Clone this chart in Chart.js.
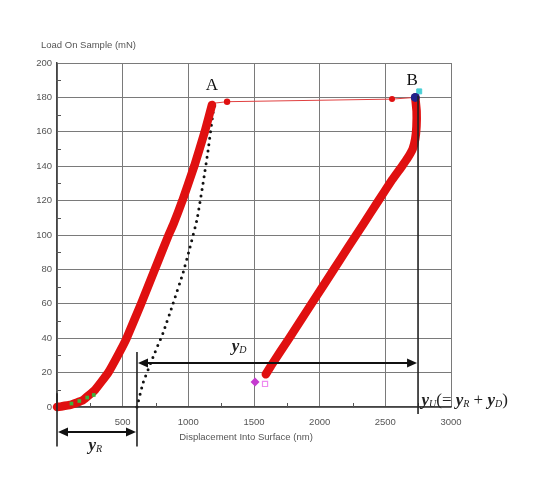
<!DOCTYPE html>
<html>
<head>
<meta charset="utf-8">
<script src="https://cdn.jsdelivr.net/npm/chart.js@4/dist/chart.umd.min.js"></script>
<style>
html,body{margin:0;padding:0;background:#fff;}
#wrap{width:541px;height:483px;}
</style>
</head>
<body>
<div id="wrap"><canvas id="c" width="541" height="483"></canvas></div>
<script>
// ---- axis ticks ----
const xTickValues = [0, 500, 1000, 1500, 2000, 2500, 3000];
const yTickValues = [0, 20, 40, 60, 80, 100, 120, 140, 160, 180, 200];
const xMinorTicks = [250, 750, 1250, 1750, 2250, 2750];
const yMinorTicks = [10, 30, 50, 70, 90, 110, 130, 150, 170, 190];

// ---- loading curve (nm, mN) ----
const loadDisp = [0, 30, 100, 198, 290, 390, 470, 530, 640, 745, 850, 885, 955, 1045, 1125, 1180];
const loadLoad = [0, 0.3, 1.2, 4, 10, 20, 31, 40, 60, 80, 100, 106, 120, 140, 160, 175.6];

// ---- hold segment A -> B ----
const holdDisp = [1180, 1295, 2551, 2728];
const holdLoad = [176.5, 177.5, 179, 180];

// ---- unloading curve ----
const unloadDisp = [2728, 2738, 2737, 2728, 2708, 2672, 2627, 2551, 2448, 2338, 2218, 2108, 1938, 1768, 1630, 1590];
const unloadLoad = [180, 172, 163, 156, 150, 145, 140, 132, 120, 107, 93, 80, 60, 40, 24, 19];

// ---- dotted fit line ----
const fitDisp = [609, 655, 731, 807, 883, 960, 1013, 1066, 1112, 1150, 1188, 1203];
const fitLoad = [0, 14, 29, 43, 60, 78, 93, 109, 130, 149, 171, 175.6];

// ---- special markers ----
const greenDisp = [110, 170, 230, 280];
const greenLoad = [2, 3.5, 5.5, 7];
const peakDisp = [2728];
const peakLoad = [180];
const cyanDisp = [2758];
const cyanLoad = [183.5];
const diamondDisp = [1508];
const diamondLoad = [14.5];
const squareDisp = [1584];
const squareLoad = [13.4];

// ---- annotation geometry (data units) ----
const guideX = [0, 609, 2749];
const guideTop = [8, 32, 181];
const guideBottom = [-23, -23, -4];
const arrowFrom = [609, 0];
const arrowTo = [2749, 609];
const arrowLoad = [25.6, -14.5];

function pts(xs, ys) { return xs.map((x, i) => ({x: x, y: ys[i]})); }

const annot = {
  id: 'annot',
  afterDatasetsDraw(chart) {
    const ctx = chart.ctx;
    const xs = chart.scales.x, ys = chart.scales.y;
    const ca = chart.chartArea;
    ctx.save();
    // minor ticks
    ctx.strokeStyle = '#555';
    ctx.lineWidth = 1;
    yMinorTicks.forEach(v => {
      const py = Math.round(ys.getPixelForValue(v)) + 0.5;
      ctx.beginPath(); ctx.moveTo(ca.left - 1, py); ctx.lineTo(ca.left + 4, py); ctx.stroke();
    });
    xMinorTicks.forEach(v => {
      const px = Math.round(xs.getPixelForValue(v)) + 0.5;
      ctx.beginPath(); ctx.moveTo(px, ca.bottom + 1); ctx.lineTo(px, ca.bottom - 4); ctx.stroke();
    });
    // guide vertical lines
    ctx.strokeStyle = '#222';
    ctx.lineWidth = 1.6;
    guideX.forEach((gx, i) => {
      const px = xs.getPixelForValue(gx);
      ctx.beginPath();
      ctx.moveTo(px, ys.getPixelForValue(guideTop[i]));
      ctx.lineTo(px, ys.getPixelForValue(guideBottom[i]));
      ctx.stroke();
    });
    // double arrows
    ctx.fillStyle = '#111';
    ctx.strokeStyle = '#111';
    ctx.lineWidth = 2;
    arrowFrom.forEach((a, i) => {
      const x1 = xs.getPixelForValue(a), x2 = xs.getPixelForValue(arrowTo[i]);
      const py = ys.getPixelForValue(arrowLoad[i]);
      const h = 10, w = 4.5;
      ctx.beginPath(); ctx.moveTo(x1 + h - 2, py); ctx.lineTo(x2 - h + 2, py); ctx.stroke();
      ctx.beginPath(); ctx.moveTo(x1 + 1, py); ctx.lineTo(x1 + h + 1, py - w); ctx.lineTo(x1 + h + 1, py + w); ctx.closePath(); ctx.fill();
      ctx.beginPath(); ctx.moveTo(x2 - 1, py); ctx.lineTo(x2 - h - 1, py - w); ctx.lineTo(x2 - h - 1, py + w); ctx.closePath(); ctx.fill();
    });
    // point labels
    ctx.fillStyle = '#111';
    ctx.textBaseline = 'middle';
    ctx.textAlign = 'center';
    ctx.font = '17px "Liberation Serif", "DejaVu Serif", serif';
    ctx.fillText('A', xs.getPixelForValue(1180), ys.getPixelForValue(187));
    ctx.fillText('B', xs.getPixelForValue(2704), ys.getPixelForValue(190));

    function rich(parts, x, y) {
      ctx.textAlign = 'left';
      let cx = x;
      parts.forEach(p => {
        const size = p.sub ? 10 : 17;
        ctx.font = (p.it ? 'italic ' : '') + (p.b ? 'bold ' : '') + size + 'px "Liberation Serif", "DejaVu Serif", serif';
        ctx.fillText(p.t, cx, y + (p.sub ? 4 : 0));
        cx += ctx.measureText(p.t).width;
      });
      return cx - x;
    }
    ctx.fillStyle = '#222';
    rich([{t: 'y', it: true, b: true}, {t: 'D', it: true, sub: true}], xs.getPixelForValue(1330), ys.getPixelForValue(35));
    rich([{t: 'y', it: true, b: true}, {t: 'R', it: true, sub: true}], xs.getPixelForValue(240), ys.getPixelForValue(-22.5));
    rich([{t: 'y', it: true, b: true}, {t: 'U', it: true, sub: true}, {t: '(= ', it: false},
          {t: 'y', it: true, b: true}, {t: 'R', it: true, sub: true}, {t: ' + ', it: false},
          {t: 'y', it: true, b: true}, {t: 'D', it: true, sub: true}, {t: ')', it: false}],
         xs.getPixelForValue(2775), ys.getPixelForValue(4));

    // axis titles
    ctx.fillStyle = '#555';
    ctx.font = '9.5px "Liberation Sans", Arial, sans-serif';
    ctx.textAlign = 'left';
    ctx.fillText('Load On Sample (mN)', 41, 45);
    ctx.textAlign = 'center';
    ctx.fillText('Displacement Into Surface (nm)', 246, 437);
    ctx.restore();
  }
};

const red = '#e01010';
new Chart(document.getElementById('c'), {
  type: 'scatter',
  data: {
    datasets: [
      {data: pts(fitDisp, fitLoad), showLine: true, borderColor: '#111', borderWidth: 3,
       borderDash: [0, 6.5], borderCapStyle: 'round', pointRadius: 0, tension: 0.1, clip: false, order: 5},
      {data: pts(holdDisp, holdLoad), showLine: true, borderColor: '#e04040', borderWidth: 1,
       pointRadius: [0, 3.2, 3, 0], pointBackgroundColor: red, pointBorderWidth: 0, order: 4},
      {data: pts(loadDisp, loadLoad), showLine: true, borderColor: red, borderWidth: 8.5,
       borderCapStyle: 'round', borderJoinStyle: 'round', pointRadius: 0, tension: 0.1, clip: false, order: 3},
      {data: pts(unloadDisp, unloadLoad), showLine: true, borderColor: red, borderWidth: 8.5,
       borderCapStyle: 'round', borderJoinStyle: 'round', pointRadius: 0, tension: 0.1, clip: false, order: 3},
      {data: pts(greenDisp, greenLoad), showLine: false, pointStyle: 'rect', pointRadius: 2.6,
       pointBackgroundColor: '#3cb33c', pointBorderWidth: 0, order: 1},
      {data: pts(cyanDisp, cyanLoad), showLine: false, pointStyle: 'rect', pointRadius: 3.5,
       pointBackgroundColor: '#49cfd6', pointBorderColor: '#49cfd6', pointBorderWidth: 1, clip: false, order: 2},
      {data: pts(peakDisp, peakLoad), showLine: false, pointStyle: 'circle', pointRadius: 4.5,
       pointBackgroundColor: '#20208a', pointBorderWidth: 0, clip: false, order: 1},
      {data: pts(diamondDisp, diamondLoad), showLine: false, pointStyle: 'rectRot', pointRadius: 4.5,
       pointBackgroundColor: '#c53ad0', pointBorderWidth: 0, order: 1},
      {data: pts(squareDisp, squareLoad), showLine: false, pointStyle: 'rect', pointRadius: 3.6,
       pointBackgroundColor: 'rgba(0,0,0,0)', pointBorderColor: '#ee8cf0', pointBorderWidth: 1.2, order: 1}
    ]
  },
  options: {
    responsive: false,
    animation: false,
    devicePixelRatio: 1,
    layout: {padding: {left: 0, right: 90, top: 63, bottom: 0}},
    plugins: {legend: {display: false}, tooltip: {enabled: false}},
    scales: {
      x: {
        type: 'linear', min: 0, max: 3000,
        afterFit: s => { s.height = 76; },
        afterBuildTicks: s => { s.ticks = xTickValues.map(v => ({value: v})); },
        ticks: {padding: 10, color: '#555', font: {size: 9.5, family: '"Liberation Sans", Arial, sans-serif'},
                maxRotation: 0, callback: v => (v === 0 ? '' : String(v))},
        grid: {color: '#7a7a7a', lineWidth: 1, drawTicks: false},
        border: {display: true, color: '#444', width: 1.5}
      },
      y: {
        type: 'linear', min: 0, max: 200,
        afterFit: s => { s.width = 57; },
        afterBuildTicks: s => { s.ticks = yTickValues.map(v => ({value: v})); },
        ticks: {padding: 5, color: '#555', font: {size: 9.5, family: '"Liberation Sans", Arial, sans-serif'}},
        grid: {color: '#7a7a7a', lineWidth: 1, drawTicks: false},
        border: {display: true, color: '#444', width: 1.5}
      }
    }
  },
  plugins: [annot]
});
</script>
</body>
</html>
